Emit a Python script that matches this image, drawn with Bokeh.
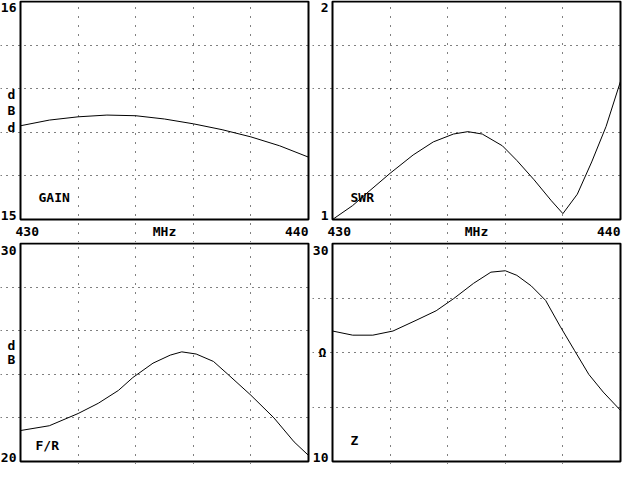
from bokeh.plotting import figure
from bokeh.layouts import gridplot
from bokeh.models import Range1d, FixedTicker, Label, Grid
from bokeh.embed import file_html
from bokeh.resources import INLINE

FONT = "DejaVu Sans Mono"
FSIZE = "13px"

# ---- data ----
gain_mhz = [430, 431, 432, 433, 434, 435, 436, 437, 438, 439, 440]
gain_dbd = [15.430, 15.456, 15.471, 15.479, 15.476, 15.461, 15.439, 15.412, 15.379, 15.338, 15.286]

swr_mhz = [430.0, 430.7, 431.3, 432.0, 432.8, 433.5, 434.2, 434.7, 435.2, 435.9,
           436.4, 437.0, 437.6, 438.0, 438.5, 439.0, 439.5, 440.0]
swr_val = [1.000, 1.064, 1.133, 1.212, 1.296, 1.356, 1.392, 1.403, 1.392, 1.338,
           1.271, 1.182, 1.086, 1.027, 1.116, 1.264, 1.427, 1.634]

fr_mhz = [430.0, 431.0, 432.0, 432.7, 433.4, 433.9, 434.6, 435.2, 435.6, 436.1,
          436.7, 437.2, 438.0, 438.8, 439.5, 440.0]
fr_db = [21.42, 21.64, 22.20, 22.67, 23.26, 23.85, 24.51, 24.88, 25.03, 24.93,
         24.59, 24.00, 23.04, 22.00, 20.90, 20.28]

z_mhz = [430.0, 430.7, 431.4, 432.1, 432.9, 433.6, 434.2, 434.9, 435.5, 436.0,
         436.4, 436.9, 437.4, 437.9, 438.4, 438.9, 439.4, 440.0]
z_ohm = [21.97, 21.59, 21.59, 21.97, 22.95, 23.83, 24.93, 26.35, 27.37, 27.50,
         27.08, 26.11, 24.78, 22.42, 20.20, 17.99, 16.37, 14.69]

x_min, x_max = 430, 440
x_grid = [432, 434, 436, 438]

gain_range = (15, 16)
gain_grid = [15.2, 15.4, 15.6, 15.8]
swr_range = (1, 2)
swr_grid = [1.2, 1.4, 1.6, 1.8]
fr_range = (20, 30)
fr_grid = [22, 24, 26, 28]
z_range = (10, 30)
z_grid = [15, 20, 25]


def make_panel(width, height, bl, br, bt, bb, yr, ygrid, xs, ys):
    """The plotting box sits bl/br/bt/bb pixels inside the figure; the
    ranges are widened so that the labels around the box are not clipped."""
    fw = width - bl - br
    fh = height - bt - bb
    dx = (x_max - x_min) / fw
    dy = (yr[1] - yr[0]) / fh
    p = figure(width=width, height=height, output_backend="svg",
               toolbar_location=None, x_axis_location=None, y_axis_location=None,
               x_range=Range1d(x_min - bl * dx, x_max + br * dx),
               y_range=Range1d(yr[0] - bb * dy, yr[1] + bt * dy),
               min_border=0)
    p.background_fill_color = "white"
    p.border_fill_color = "white"
    p.outline_line_color = None
    p.grid.visible = False
    p.add_layout(Grid(dimension=0, ticker=FixedTicker(ticks=x_grid),
                      bounds=(x_min, x_max), grid_line_color="black",
                      grid_line_width=1, grid_line_dash="1 8"))
    p.add_layout(Grid(dimension=1, ticker=FixedTicker(ticks=ygrid),
                      bounds=yr, grid_line_color="black",
                      grid_line_width=1, grid_line_dash="1 5"))
    p.quad(left=[x_min], right=[x_max], bottom=[yr[0]], top=[yr[1]],
           fill_color=None, line_color="black", line_width=2)
    p.line(xs, ys, line_color="black", line_width=1)
    return p


def lab(p, x, y, text, align, baseline, xo=0, yo=0, lh=1.2):
    p.add_layout(Label(x=x, y=y, text=text, text_align=align,
                       text_baseline=baseline, x_offset=xo, y_offset=yo,
                       text_font=FONT, text_font_size=FSIZE,
                       text_font_style="bold", text_color="black",
                       text_line_height=lh))


tl = make_panel(312, 242, 20, 4, 1, 23, gain_range, gain_grid, gain_mhz, gain_dbd)
tr = make_panel(312, 242, 20, 4, 1, 23, swr_range, swr_grid, swr_mhz, swr_val)
bl = make_panel(312, 222, 20, 4, 1, 3, fr_range, fr_grid, fr_mhz, fr_db)
br = make_panel(312, 222, 20, 4, 1, 3, z_range, z_grid, z_mhz, z_ohm)

# top-left: gain
lab(tl, x_min, gain_range[1], "16", "right", "top", -4, -1)
lab(tl, x_min, gain_range[0], "15", "right", "bottom", -4, 0)
lab(tl, x_min, sum(gain_range) / 2, "d\nB\nd", "center", "middle", -9, 0, 1.1)
lab(tl, x_min, gain_range[0], "GAIN", "left", "alphabetic", 18, 22)
for p, yr in ((tl, gain_range), (tr, swr_range)):
    lab(p, x_min, yr[0], "430", "left", "alphabetic", -5, -12)
    lab(p, (x_min + x_max) / 2, yr[0], "MHz", "center", "alphabetic", 0, -12)
    lab(p, x_max, yr[0], "440", "right", "alphabetic", 0, -12)

# top-right: SWR
lab(tr, x_min, swr_range[1], "2", "right", "top", -4, -1)
lab(tr, x_min, swr_range[0], "1", "right", "bottom", -4, 0)
lab(tr, x_min, swr_range[0], "SWR", "left", "alphabetic", 18, 22)

# bottom-left: F/R
lab(bl, x_min, fr_range[1], "30", "right", "top", -4, -2)
lab(bl, x_min, fr_range[0], "20", "right", "bottom", -4, 0)
lab(bl, x_min, sum(fr_range) / 2, "d\nB", "center", "middle", -9, 0, 0.95)
lab(bl, x_min, fr_range[0], "F/R", "left", "alphabetic", 15, 16)

# bottom-right: Z
lab(br, x_min, z_range[1], "30", "right", "top", -4, -2)
lab(br, x_min, z_range[0], "10", "right", "bottom", -4, 0)
lab(br, x_min, sum(z_range) / 2, "Ω", "center", "middle", -10, 0)
lab(br, x_min, z_range[0], "Z", "left", "alphabetic", 18, 21)

grid = gridplot([[tl, tr], [bl, br]], toolbar_location=None)

open("out.html", "w").write(file_html(grid, INLINE))
